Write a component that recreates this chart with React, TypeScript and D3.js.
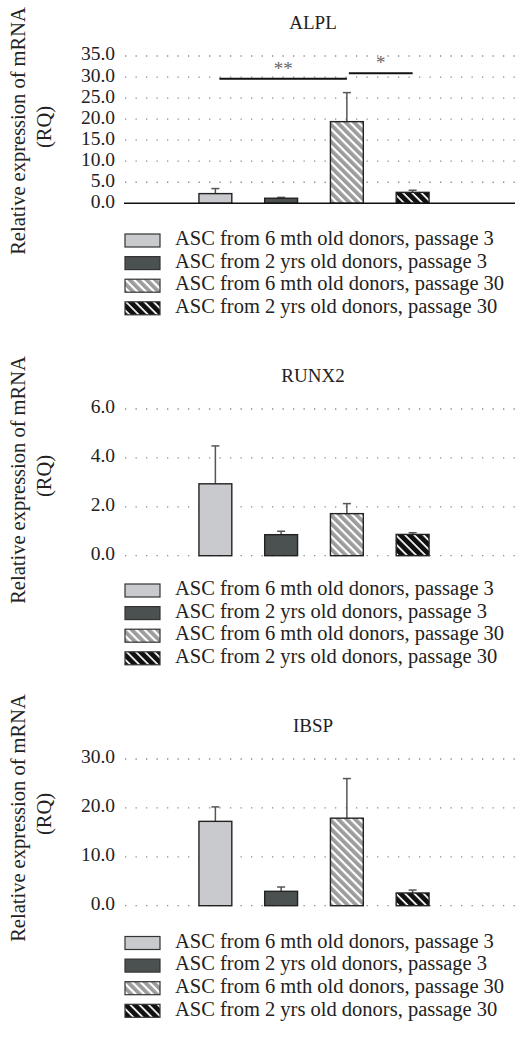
import React from "react";
import * as d3 from "d3";

const seriesNames = [
  "ASC from 6 mth old donors, passage 3",
  "ASC from 2 yrs old donors, passage 3",
  "ASC from 6 mth old donors, passage 30",
  "ASC from 2 yrs old donors, passage 30",
];
const genes = ["ALPL", "RUNX2", "IBSP"];

const alplMeans = [2.3, 1.2, 19.4, 2.6];
const alplErrors = [1.2, 0.2, 6.9, 0.5];
const alplTicks = [0, 5, 10, 15, 20, 25, 30, 35];

const runx2Means = [2.94, 0.86, 1.72, 0.87];
const runx2Errors = [1.55, 0.14, 0.41, 0.07];
const runx2Ticks = [0, 2, 4, 6];

const ibspMeans = [17.25, 2.94, 17.9, 2.6];
const ibspErrors = [2.95, 0.88, 8.1, 0.6];
const ibspTicks = [0, 10, 20, 30];

const alplSigFrom = [0, 2];
const alplSigTo = [2, 3];
const alplSigLabels = ["**", "*"];
const alplSigLevels = [29.6, 30.9];

const FONT = "Liberation Serif";
const fills = ["#c9cacd", "#4b5150", "url(#stripeGray)", "url(#stripeBlack)"];

type Panel = {
  gene: string;
  means: number[];
  errors: number[];
  ticks: number[];
  y0: number;
  yTop: number;
  labelX: number;
  labelY: number;
  legendY: number;
  solidBase: boolean;
};

const panels: Panel[] = [
  { gene: genes[0], means: alplMeans, errors: alplErrors, ticks: alplTicks, y0: 203.3, yTop: 56, labelX: 25, labelY: 131, legendY: 240.5, solidBase: true },
  { gene: genes[1], means: runx2Means, errors: runx2Errors, ticks: runx2Ticks, y0: 555.7, yTop: 409, labelX: 25, labelY: 480, legendY: 590.5, solidBase: false },
  { gene: genes[2], means: ibspMeans, errors: ibspErrors, ticks: ibspTicks, y0: 905.7, yTop: 759, labelX: 25, labelY: 818, legendY: 943, solidBase: false },
];

const x = d3.scaleBand<number>().domain([0, 1, 2, 3]).range([182.5, 445.5]).paddingInner(0.5).paddingOuter(0.25);
const fmt = d3.format(".1f");

function PanelView({ p }: { p: Panel }) {
  const maxT = p.ticks[p.ticks.length - 1];
  const y = d3.scaleLinear().domain([0, maxT]).range([p.y0, p.yTop]);
  const bw = x.bandwidth();
  return (
    <g>
      <text x={313} y={p.yTop - 31} textAnchor="middle" dominantBaseline="middle" fontSize={19} fontFamily={FONT} fill="#222">{p.gene}</text>
      <text transform={`translate(${p.labelX},${p.labelY}) rotate(-90)`} textAnchor="middle" fontSize={20.5} fontFamily={FONT} fill="#222">Relative expression of mRNA</text>
      <text transform={`translate(${p.labelX + 26},${p.labelY - 4}) rotate(-90)`} textAnchor="middle" fontSize={20.5} fontFamily={FONT} fill="#222">(RQ)</text>
      {p.ticks.map((t) => (
        <g key={t}>
          {!(p.solidBase && t === 0) && (
            <line x1={125} x2={518} y1={y(t)} y2={y(t)} stroke="#8a8a8a" strokeWidth={1.3} strokeDasharray="1.3 9.2" />
          )}
          <text x={115} y={y(t)} textAnchor="end" dominantBaseline="middle" fontSize={19.5} fontFamily={FONT} fill="#222">{fmt(t)}</text>
        </g>
      ))}
      {p.means.map((m, i) => {
        const bx = x(i)!;
        const cx = bx + bw / 2;
        const top = y(m);
        const et = y(m + p.errors[i]);
        return (
          <g key={i}>
            <line x1={cx} x2={cx} y1={top} y2={et} stroke="#555" strokeWidth={1.5} />
            <line x1={cx - 4} x2={cx + 4} y1={et} y2={et} stroke="#555" strokeWidth={1.5} />
            <rect x={bx} y={top} width={bw} height={p.y0 - top} fill={fills[i]} stroke="#222" strokeWidth={1.4} />
          </g>
        );
      })}
      {p.solidBase && <line x1={124} x2={515} y1={p.y0} y2={p.y0} stroke="#111" strokeWidth={1.5} />}
      {seriesNames.map((s, i) => {
        const ry = p.legendY + i * 22.6;
        return (
          <g key={s}>
            <rect x={125} y={ry - 6.5} width={35} height={13} fill={fills[i]} stroke="#333" strokeWidth={1.2} />
            <text x={175} y={ry} dominantBaseline="middle" fontSize={20.5} fontFamily={FONT} fill="#222">{s}</text>
          </g>
        );
      })}
    </g>
  );
}

function Significance() {
  const p = panels[0];
  const y = d3.scaleLinear().domain([0, p.ticks[p.ticks.length - 1]]).range([p.y0, p.yTop]);
  return (
    <g>
      {alplSigLabels.map((lab, k) => {
        const x1 = x(alplSigFrom[k])! + x.bandwidth() / 2 - (k === 0 ? -4 : -2);
        const x2 = x(alplSigTo[k])! + x.bandwidth() / 2;
        const yy = y(alplSigLevels[k]);
        return (
          <g key={k}>
            <line x1={x1} x2={x2} y1={yy} y2={yy} stroke="#111" strokeWidth={2} />
            <text x={(x1 + x2) / 2} y={yy - 4} textAnchor="middle" fontSize={19} fontFamily={FONT} fill="#666">{lab}</text>
          </g>
        );
      })}
    </g>
  );
}

export default function App() {
  return (
    <svg width={518} height={1038} style={{ position: "absolute", left: 0, top: 0, background: "#fff" }}>
      <defs>
        <pattern id="stripeGray" patternUnits="userSpaceOnUse" width={6} height={6} patternTransform="rotate(-45)">
          <rect width={6} height={6} fill="#fff" />
          <rect width={3.8} height={6} fill="#9c9c9c" />
        </pattern>
        <pattern id="stripeBlack" patternUnits="userSpaceOnUse" width={6.5} height={6.5} patternTransform="rotate(-45)">
          <rect width={6.5} height={6.5} fill="#fff" />
          <rect width={4.8} height={6.5} fill="#111" />
        </pattern>
      </defs>
      <rect width={518} height={1038} fill="#fff" />
      {panels.map((p) => (
        <PanelView key={p.gene} p={p} />
      ))}
      <Significance />
    </svg>
  );
}
